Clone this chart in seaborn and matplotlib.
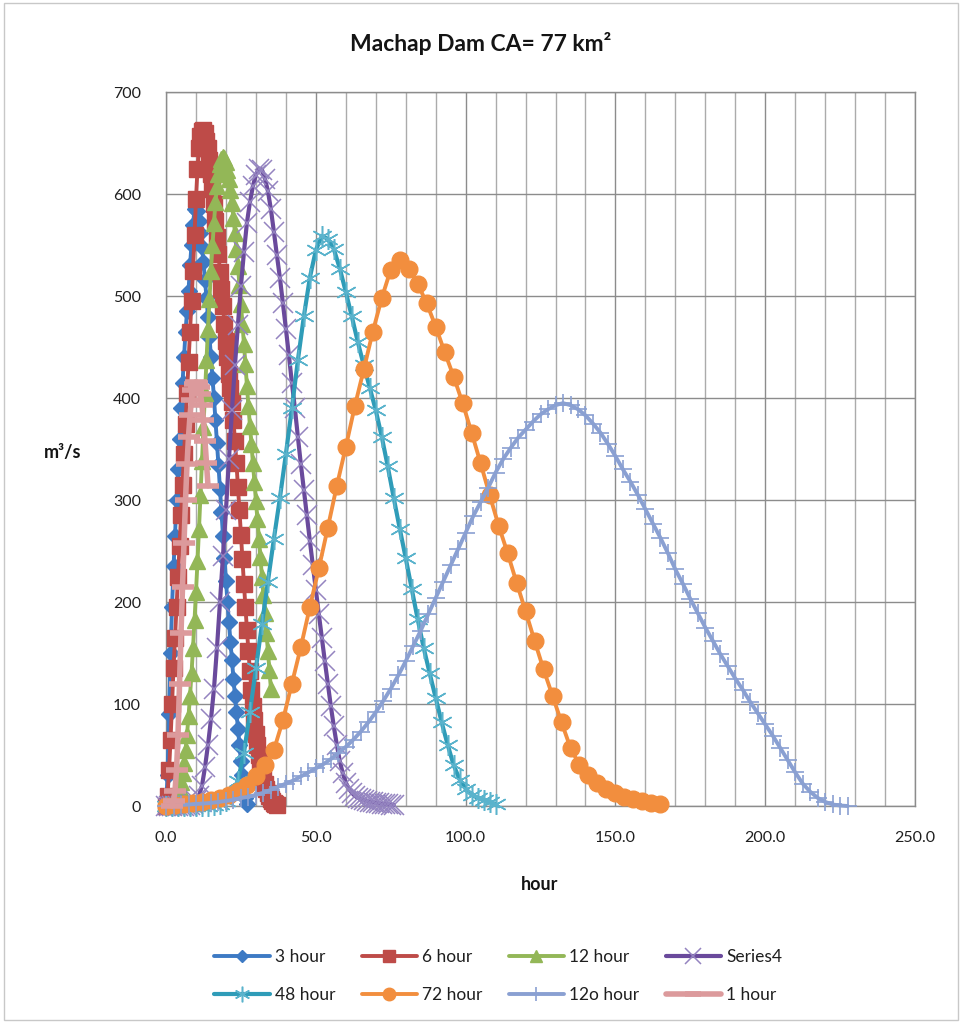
import numpy as np
import matplotlib
matplotlib.use("Agg")
import matplotlib.pyplot as plt
from matplotlib.patches import Rectangle
from matplotlib.ticker import MultipleLocator, FormatStrFormatter
import seaborn as sns

# ---- hydrograph data (discharge in m3/s), each series on its own time step ----
labels = ["3 hour", "6 hour", "12 hour", "Series4", "48 hour", "72 hour", "12o hour", "1 hour"]

# start time and time step (hours) of each series
t_start = [0.0, 0.0, 2.0, 0.0, 0.0, 0.0, 0.0, 2.0]
t_step = [0.5, 0.5, 0.5, 1.0, 2.0, 3.0, 2.5, 0.5]

q_3h = [0, 30, 90, 150, 195, 235, 265, 300, 330, 360, 390, 415, 440, 465, 485, 505, 530,
        550, 570, 585, 590, 583, 574, 562, 548, 533, 516, 498, 479, 460, 440, 420, 400,
        378, 356, 334, 311, 288, 265, 243, 221, 200, 180, 161, 143, 125, 108, 92, 76, 60,
        44, 30, 18, 8, 2]

q_6h = [0, 10, 35, 65, 100, 135, 165, 195, 225, 255, 285, 315, 345, 375, 405, 435, 465,
        495, 525, 560, 595, 625, 645, 657, 662, 663, 660, 652,
        645, 633, 620, 605, 590, 574, 558, 541, 524, 507, 490, 473, 456, 440, 424, 410,
        396, 378, 358, 336, 313, 290, 266, 242, 218, 195, 173, 152, 132, 114, 98, 84, 71,
        60, 50, 41, 34, 27, 22, 17, 13, 10, 7, 5, 3, 2, 1]

q_12h = [0, 2, 5, 9, 13, 18, 24, 32, 42, 55, 70, 88, 108, 130, 155, 182, 210, 240, 272,
         305, 338, 372, 405, 437, 468, 497, 525, 550, 572, 592, 608, 620, 629, 634, 636,
         635, 631, 624, 615, 604, 591, 577, 562, 546, 529, 511, 492, 473, 453, 433, 412,
         392, 373, 355, 336, 318, 299, 281, 262, 244, 225, 207, 189, 170, 152, 133, 115]

q_series4 = [0, 0, 0, 0, 0, 0, 0, 0, 1, 2,
             5, 10, 20, 38, 60, 85, 115, 155, 200, 245, 290, 340, 388, 432, 472, 510, 543,
             572, 592, 608, 619, 625, 624,
             615, 603, 585, 563, 540, 518, 493, 468, 442, 415, 390, 362, 335, 310, 285, 260,
             236, 212, 188, 165, 142, 120, 98, 78, 60, 44, 32, 23, 17, 13, 10, 8, 7, 6, 5,
             4, 4, 3, 3, 2, 2, 2, 1, 1]

q_48h = [0, 0, 0, 0, 0, 0, 0, 0, 1, 2,
         5, 12, 25, 52, 92, 135, 178, 220, 262, 302, 345, 390, 437, 480, 518, 545, 559,
         556, 546, 527, 504, 480, 455, 432, 410, 388, 362, 333, 302, 272, 243, 213, 183,
         155, 130, 106, 82, 60, 40, 26, 17, 11, 8, 6, 4, 2]

q_72h = [0, 1, 2, 3, 4, 6, 8, 11, 15, 21, 29, 40,
         55, 84, 120, 156, 195, 233, 273, 314, 352, 392, 428, 465, 498, 526, 535, 527, 512,
         493, 470, 445, 421, 395, 366, 336, 305, 275, 248, 219, 191, 162, 134, 108, 82, 57,
         40, 30, 23, 17, 13, 9, 7, 5, 3, 2]

q_120h = [0, 0.5, 1, 1.5, 2, 2.5, 3, 4, 5, 6, 8, 9, 11, 13, 16, 19, 22, 25, 29, 33, 37,
          41, 46, 52, 58, 65, 73, 82, 92, 103, 115, 128, 142, 157, 172, 188, 204, 220, 236,
          252, 268, 284, 298, 312, 327, 340, 351, 361, 369, 377, 384, 389, 393,
          395, 393, 389, 383, 375, 366, 355, 343, 330, 318, 305, 291, 277, 263, 248, 232,
          218, 203, 189, 175, 162, 149, 137, 125, 114, 102, 91, 80, 69, 57, 45, 33, 22, 14,
          8, 4, 1.5, 0.5, 0]

q_1h = [0, 5, 15, 35, 70, 120, 170, 215, 258, 300, 335, 362, 383, 398, 408, 414, 416,
        415, 411, 404, 393, 378, 358, 336, 314]

flows = [q_3h, q_6h, q_12h, q_series4, q_48h, q_72h, q_120h, q_1h]

# ---- line / marker styles ----
styles = [
    dict(color="#3d7ac4", lw=2.8, marker="D", ms=8.5, mfc="#3d7ac4", mec="#3d7ac4", mew=1),
    dict(color="#be4b48", lw=2.8, marker="s", ms=11.5, mfc="#be4b48", mec="#be4b48", mew=1),
    dict(color="#93b757", lw=2.8, marker="^", ms=12, mfc="#93b757", mec="#93b757", mew=1),
    dict(color="#6a4a9c", lw=3.0, marker="x", ms=15, mfc="#9484c0", mec="#9484c0", mew=1.1),
    dict(color="#2f9cb8", lw=3.0, marker=(6, 2, 0), ms=15, mfc="#5ab3cc", mec="#5ab3cc", mew=1.1),
    dict(color="#f28e3e", lw=2.8, marker="o", ms=12, mfc="#f28e3e", mec="#f28e3e", mew=1),
    dict(color="#8aa0d2", lw=2.8, marker="+", ms=13, mfc="#8aa0d2", mec="#8aa0d2", mew=1.2),
    dict(color="#dc9a9c", lw=4.0, marker="_", ms=16, mfc="#dc9a9c", mec="#dc9a9c", mew=4),
]

sns.set_theme(style="white")
plt.rcParams["font.family"] = ["Lato", "DejaVu Sans"]

fig = plt.figure(figsize=(9.62, 10.23), dpi=100)
ax = fig.add_axes([0.1726, 0.2121, 0.7786, 0.6979])

for i, (lab, t0, dt, q, st) in enumerate(zip(labels, t_start, t_step, flows, styles)):
    t = t0 + dt * np.arange(len(q))
    sns.lineplot(x=t, y=q, ax=ax, label=lab, color=st["color"], linewidth=st["lw"],
                 marker=st["marker"], markersize=st["ms"],
                 markerfacecolor=st["mfc"], markeredgecolor=st["mec"],
                 markeredgewidth=st["mew"], clip_on=False, zorder=3 + i,
                 sort=False, estimator=None)

ax.set_xlim(0, 250)
ax.set_ylim(0, 700)
ax.xaxis.set_major_locator(MultipleLocator(50))
ax.xaxis.set_minor_locator(MultipleLocator(10))
ax.yaxis.set_major_locator(MultipleLocator(100))
ax.xaxis.set_major_formatter(FormatStrFormatter("%.1f"))
ax.set_axisbelow(True)
ax.grid(which="major", color="#8c8c8c", linewidth=1.0)
ax.grid(which="minor", axis="x", color="#ababab", linewidth=1.0)
for s in ax.spines.values():
    s.set_color("#8c8c8c")
    s.set_linewidth(1.0)
ax.tick_params(which="major", direction="out", length=5, width=1, color="#8c8c8c",
               labelsize=11.5, labelcolor="#1f1f1f")
ax.tick_params(axis="x", which="major", pad=13)
ax.tick_params(axis="y", which="major", pad=13)
ax.tick_params(which="minor", length=0)
ax.set_xlabel("")
ax.set_ylabel("")

fig.text(0.5, 0.957, "Machap Dam CA= 77 km²", ha="center", va="center",
         fontsize=16.5, fontweight="bold", color="#141414")
fig.text(0.065, 0.558, "m³/s", ha="center", va="center", fontsize=13,
         fontweight="bold", color="#141414")
fig.text(0.561, 0.135, "hour", ha="center", va="center", fontsize=13,
         fontweight="bold", color="#141414")

handles, labs = ax.get_legend_handles_labels()
if ax.get_legend() is not None:
    ax.get_legend().remove()
order = [0, 4, 1, 5, 2, 6, 3, 7]
leg = fig.legend([handles[k] for k in order], [labs[k] for k in order],
                 ncol=4, loc="center", bbox_to_anchor=(0.518, 0.046), frameon=False,
                 fontsize=12.5, handlelength=3.2, handletextpad=0.3, columnspacing=1.5,
                 labelspacing=1.3, markerscale=0.75)
for txt in leg.get_texts():
    txt.set_color("#1f1f1f")

fig.patches.append(Rectangle((0.004, 0.003), 0.992, 0.994, transform=fig.transFigure,
                             fill=False, edgecolor="#c8c8c8", linewidth=1))

fig.savefig("out.png", dpi=100, facecolor="white")
